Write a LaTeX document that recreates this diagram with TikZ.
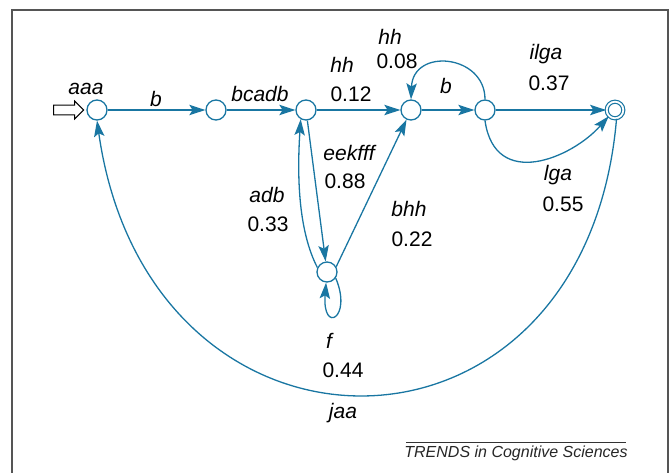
\documentclass[tikz,border=0pt]{standalone}
\usepackage{fontspec}
\setmainfont{Liberation Sans}
\usetikzlibrary{arrows.meta,shapes.arrows}
\definecolor{fsablue}{RGB}{25,118,162}
\definecolor{framegray}{RGB}{85,85,85}

\begin{document}
\begin{tikzpicture}[x=0.5pt,y=-0.5pt,font=\fontsize{10.5}{12}\selectfont]
		\tikzstyle{every node}+=[inner sep=0pt]
		\tikzstyle{state}=[circle,draw=fsablue,line width=0.65pt,minimum size=10pt]
		\tikzstyle{accepting}=[circle,draw=fsablue,line width=0.6pt,double,double distance=0.9pt,minimum size=8.3pt]
		\tikzstyle{edge}=[draw=fsablue,line width=0.65pt,-{Stealth[length=8pt,width=5.2pt,inset=1.6pt]}]
		\tikzstyle{start}=[single arrow,draw=black,line width=0.5pt,inner sep=2.2pt,minimum height=15pt,minimum width=8.5pt,single arrow head extend=2pt,single arrow head indent=0pt]
		\useasboundingbox (0,0) rectangle (669,472);
		\draw [framegray,line width=1pt] (12,480) -- (12,10) -- (668,10) -- (668,480);
		\node [state] (q0) at (97,110) {};
		\node [state] (q1) at (216,110) {};
		\node [state] (q2) at (306,110) {};
		\node [state] (q3) at (411,110) {};
		\node [state] (q4) at (485,110) {};
		\node [accepting] (q5) at (615,110) {};
		\node [state] (q6) at (327,272) {};
		\node [start,anchor=tip] (in) at ([xshift=-1pt]q0.west) {};
		\draw [edge] (q0) -- (q1);
		\draw [edge] (q1) -- (q2);
		\draw [edge] (q2) -- (q3);
		\draw [edge] (q3) -- (q4);
		\draw [edge] (q4) -- (q5);
		\draw [edge] (q4.north) .. controls +(0,-45) and +(2,-52) .. (q3.north);
		\draw [edge] (q4.south) .. controls +(10,70) and +(-37,42) .. (q5.225);
		\draw [edge] (q2) -- (q6);
		\draw [edge] (q6.155) .. controls +(-18,-35) and +(-4,62) .. (q2.240);
		\draw [edge] (q6.30) -- (q3.245);
		\draw [edge] (q6.-35) .. controls +(17,40) and +(-4,52) .. (q6.-95);
		\draw [edge] (q5.-80) .. controls (585,486) and (149,486) .. (q0.south);
		\node (l0) at (86,89) {\textit{aaa}};
		\node (l1) at (156,99) {\textit{b}};
		\node (l2) at (260,94) {\textit{bcadb}};
		\node (l3) at (342,65) {\textit{hh}};
		\node (p3) at (351,94) {0.12};
		\node (l4) at (390,37) {\textit{hh}};
		\node (p4) at (397,61) {0.08};
		\node (l5) at (446,86) {\textit{b}};
		\node (l6) at (546,54) {\textit{ilga}};
		\node (p6) at (549,83) {0.37};
		\node (l7) at (558,175) {\textit{lga}};
		\node (p7) at (563,204) {0.55};
		\node (l8) at (350,153) {\textit{eekfff}};
		\node (p8) at (345,181) {0.88};
		\node (l9) at (409,209) {\textit{bhh}};
		\node (p9) at (412,239) {0.22};
		\node (l10) at (267,195) {\textit{adb}};
		\node (p10) at (268,224) {0.33};
		\node (l11) at (330,341) {\textit{f}};
		\node (p11) at (343,370) {0.44};
		\node (l12) at (343,413) {\textit{jaa}};
		\node [font=\fontsize{8}{10}\selectfont\itshape,text=black!85] (src) at (516,453) {TRENDS in Cognitive Sciences};
		\draw [black!80,line width=0.5pt] (406,442) -- (626,442);
	\end{tikzpicture}
\end{document}
